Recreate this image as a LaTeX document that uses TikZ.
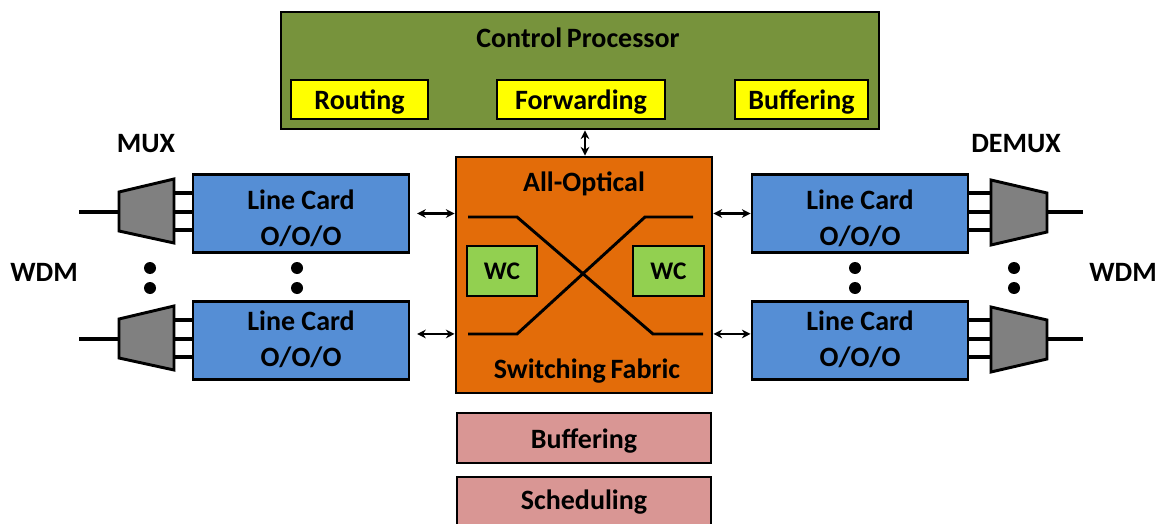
\documentclass[tikz,border=0pt]{standalone}
\usepackage{fontspec}
\setmainfont{Carlito}
\usetikzlibrary{arrows.meta}
\definecolor{cpgreen}{HTML}{77933C}
\definecolor{fnyellow}{HTML}{FFFF00}
\definecolor{sforange}{HTML}{E36C09}
\definecolor{lcblue}{HTML}{558ED5}
\definecolor{wcgreen}{HTML}{92D050}
\definecolor{bfpink}{HTML}{D99694}
\definecolor{muxgray}{HTML}{808080}
\tikzset{
  box/.style={draw, line width=2.2pt, inner sep=0pt},
  lbl/.style={inner sep=0pt, font=\fontsize{21}{27}\selectfont\bfseries, align=center},
  boxtext/.style={label={[lbl, yshift=-1.9pt]center:#1}},
  cardtext/.style 2 args={label={[lbl, yshift=#1]center:#2}},
  fiber/.style={line width=2.4pt},
  biarrow/.style={line width=1.6pt, {Stealth[length=6.5pt,width=6.5pt]}-{Stealth[length=6.5pt,width=6.5pt]}},
  mux/.style={draw, line width=2.2pt, fill=muxgray, line join=miter},
  dot/.style={fill=black}
}
\begin{document}
\begin{tikzpicture}[x=0.75pt,y=-0.75pt]
\useasboundingbox (0,0) rectangle (1166,524);
\clip (0,0) rectangle (1166,524);

% control processor with its functions
\node[box, fill=cpgreen, minimum width=598*0.75pt, minimum height=117*0.75pt] (cp) at (580,70.5) {};
\node[lbl] (cptitle) at (578,38) {Control\,Processor};
\node[box, fill=fnyellow, minimum width=137*0.75pt, minimum height=39*0.75pt, boxtext=Routing] (routing) at (359.5,99.5) {};
\node[box, fill=fnyellow, minimum width=168*0.75pt, minimum height=39*0.75pt, boxtext=Forwarding] (forwarding) at (581,99.5) {};
\node[box, fill=fnyellow, minimum width=133*0.75pt, minimum height=39*0.75pt, boxtext=Buffering] (bufcp) at (801.5,99.5) {};

% switching fabric
\node[box, fill=sforange, minimum width=256*0.75pt, minimum height=236*0.75pt] (fabric) at (584,275) {};
\node[lbl] (ftop) at (584,184) {All-Optical};
\node[lbl] (fbot) at (587,371) {Switching\,Fabric};
\node[box, fill=wcgreen, minimum width=70*0.75pt, minimum height=50*0.75pt, font=\fontsize{19}{23}\selectfont\bfseries] (wcl) at (502,271) {WC};
\node[box, fill=wcgreen, minimum width=71*0.75pt, minimum height=50*0.75pt, font=\fontsize{19}{23}\selectfont\bfseries] (wcr) at (668.5,271) {WC};
\draw[line width=2.2pt] (468,217) -- (517,217) -- (653,334) -- (703,334);
\draw[line width=2.2pt] (468,334) -- (517,334) -- (645,217) -- (693,217);

% buffering and scheduling below the fabric
\node[box, fill=bfpink, minimum width=254*0.75pt, minimum height=50*0.75pt, boxtext=Buffering] (bufsf) at (584,438) {};
\node[box, fill=bfpink, minimum width=254*0.75pt, minimum height=50*0.75pt] (sched) at (584,502) {};
\node[lbl] (schedtxt) at (584,502.5) {Scheduling};

% line cards
\foreach \n/\x/\y/\s in {lcL1/301/213.5/-3.6pt, lcL2/301/340.5/0.6pt, lcR1/860/213.5/-3.6pt, lcR2/860/340.5/0.6pt}
  \node[box, fill=lcblue, minimum width=216*0.75pt, minimum height=78*0.75pt, cardtext={\s}{Line Card\\O/O/O}] (\n) at (\x,\y) {};

% multiplexers (left) and demultiplexers (right)
\foreach \dy/\k in {0/1, 127/2} {
  \draw[mux] (119,192+\dy) -- (174,179+\dy) -- (174,243+\dy) -- (119,231+\dy) -- cycle;
  \coordinate (mxin\k) at (119,212+\dy);
  \coordinate (mxfar\k) at (79,212+\dy);
  \draw[fiber] (mxfar\k) -- (mxin\k);
  \foreach \yy in {193,212,230}
    \draw[fiber] (174,\yy+\dy) -- (lcL\k.west |- 0,\yy+\dy);
  \draw[mux] (991,180+\dy) -- (1047,193+\dy) -- (1047,232+\dy) -- (991,245+\dy) -- cycle;
  \coordinate (dmout\k) at (1047,212+\dy);
  \coordinate (dmfar\k) at (1083,212+\dy);
  \draw[fiber] (dmout\k) -- (dmfar\k);
  \foreach \yy in {193,212,230}
    \draw[fiber] (lcR\k.east |- 0,\yy+\dy) -- (991,\yy+\dy);
}

% links between line cards, fabric and control processor
\coordinate (pL2) at ([yshift=4.9pt]lcL2.east);
\coordinate (pR2) at ([yshift=4.9pt]lcR2.west);
\draw[biarrow, shorten <=5pt] (lcL1.east) -- (fabric.west |- lcL1.east);
\draw[biarrow, shorten <=5pt] (pL2) -- (fabric.west |- pL2);
\draw[biarrow] (fabric.east |- lcR1.west) -- (lcR1.west);
\draw[biarrow] (fabric.east |- pR2) -- (pR2);
\coordinate (fN) at ([xshift=0.75pt]fabric.north);
\draw[biarrow] (fN) -- (fN |- cp.south);

% continuation dots
\foreach \x in {150,297,855,1014} {
  \fill[dot] (\x,268) circle (6*0.75pt);
  \fill[dot] (\x,288) circle (6*0.75pt);
}

% labels
\node[lbl] (mux) at (146,144) {MUX};
\node[lbl] (demux) at (1016,144) {DEMUX};
\node[lbl] (wdml) at (44,272) {WDM};
\node[lbl] (wdmr) at (1123,272) {WDM};
\end{tikzpicture}
\end{document}
